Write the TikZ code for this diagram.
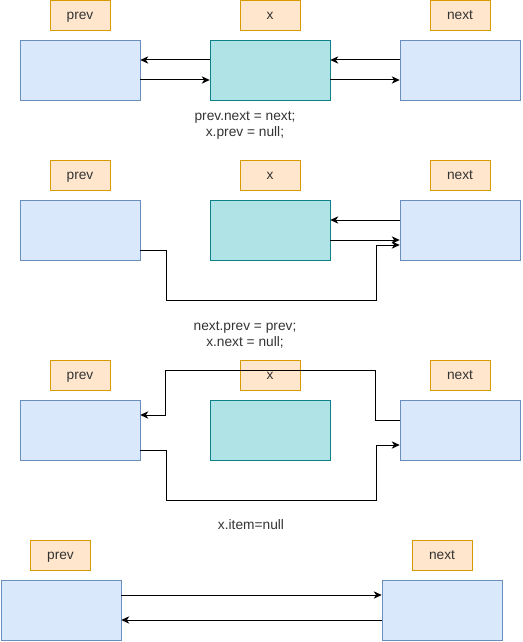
\documentclass[tikz,border=0pt]{standalone}
\usepackage{fontspec}
\setmainfont{Liberation Sans}
\usetikzlibrary{arrows.meta}
\definecolor{lblfill}{HTML}{FFE6CC}
\definecolor{lbldraw}{HTML}{D79B00}
\definecolor{nodefill}{HTML}{DAE8FC}
\definecolor{nodedraw}{HTML}{6C8EBF}
\definecolor{xfill}{HTML}{B0E3E6}
\definecolor{xdraw}{HTML}{0E8088}
\definecolor{codetext}{HTML}{333333}
\begin{document}
\begin{tikzpicture}[x=0.75pt,y=-0.75pt,
  lbl/.style={draw=lbldraw,fill=lblfill,minimum width=45pt,minimum height=22.5pt,inner sep=0pt,font=\fontsize{10.3}{12}\selectfont,text=codetext,text height=1.2ex,text depth=0pt},
  cell/.style={draw=nodedraw,fill=nodefill,minimum width=90pt,minimum height=45pt,inner sep=0pt},
  xcell/.style={draw=xdraw,fill=xfill,minimum width=90pt,minimum height=45pt,inner sep=0pt},
  code/.style={font=\fontsize{10.3}{12}\selectfont,text=codetext,align=center,inner sep=0pt},
  arr/.style={-{Stealth[length=6pt,width=5.5pt,inset=1.8pt]},line width=0.75pt,black}]
\useasboundingbox (0,0) rectangle (522,642);
% Section 1
\node[lbl] (lp1) at (80,15) {prev};
\node[lbl] (lx1) at (270,15) {x};
\node[lbl] (ln1) at (460,15) {next};
\node[cell] (p1) at (80,70) {};
\node[xcell] (x1) at (270,70) {};
\node[cell] (n1) at (460,70) {};
\draw[arr] ([yshift=7.5pt]x1.west) -- ([yshift=7.5pt]p1.east);
\draw[arr] ([yshift=-7.5pt]p1.east) -- ([yshift=-7.5pt]x1.west);
\draw[arr] ([yshift=7.5pt]n1.west) -- ([yshift=7.5pt]x1.east);
\draw[arr] ([yshift=-7.5pt]x1.east) -- ([yshift=-7.5pt]n1.west);
\node[code] (t1) at (245,125) {prev.next = next;\\x.prev = null;};
% Section 2
\node[lbl] (lp2) at (80,175) {prev};
\node[lbl] (lx2) at (270,175) {x};
\node[lbl] (ln2) at (460,175) {next};
\node[cell] (p2) at (80,230) {};
\node[xcell] (x2) at (270,230) {};
\node[cell] (n2) at (460,230) {};
\draw[arr] ([yshift=7.5pt]n2.west) -- ([yshift=7.5pt]x2.east);
\draw[arr] ([yshift=-7.5pt]x2.east) -- ([yshift=-7.5pt]n2.west);
\draw[arr] ([yshift=-15pt]p2.east) -- ++(26,0) -- ++(0,50) -- ++(210,0) |- ([yshift=-11.25pt]n2.west);
\node[code] (t2) at (245,335) {next.prev = prev;\\x.next = null;};
% Section 3
\node[lbl] (lp3) at (80,375) {prev};
\node[lbl] (lx3) at (270,375) {x};
\node[lbl] (ln3) at (460,375) {next};
\node[cell] (p3) at (80,430) {};
\node[xcell] (x3) at (270,430) {};
\node[cell] (n3) at (460,430) {};
\draw[arr] ([yshift=7.5pt]n3.west) -- ++(-24,0) -- ++(0,-50) -- ++(-210,0) |- ([yshift=11.25pt]p3.east);
\draw[arr] ([yshift=-15pt]p3.east) -- ++(26,0) -- ++(0,50) -- ++(210,0) |- ([yshift=-11.25pt]n3.west);
\node[code] (t3) at (251,525) {x.item=null};
% Section 4
\node[lbl] (lp4) at (60.5,555) {prev};
\node[lbl] (ln4) at (442,555) {next};
\node[cell] (p4) at (61,610) {};
\node[cell] (n4) at (442,610) {};
\draw[arr] ([yshift=11.25pt]p4.east) -- ([yshift=11.25pt]n4.west);
\draw[arr] ([yshift=-7.5pt]n4.west) -- ([yshift=-7.5pt]p4.east);
\end{tikzpicture}
\end{document}
